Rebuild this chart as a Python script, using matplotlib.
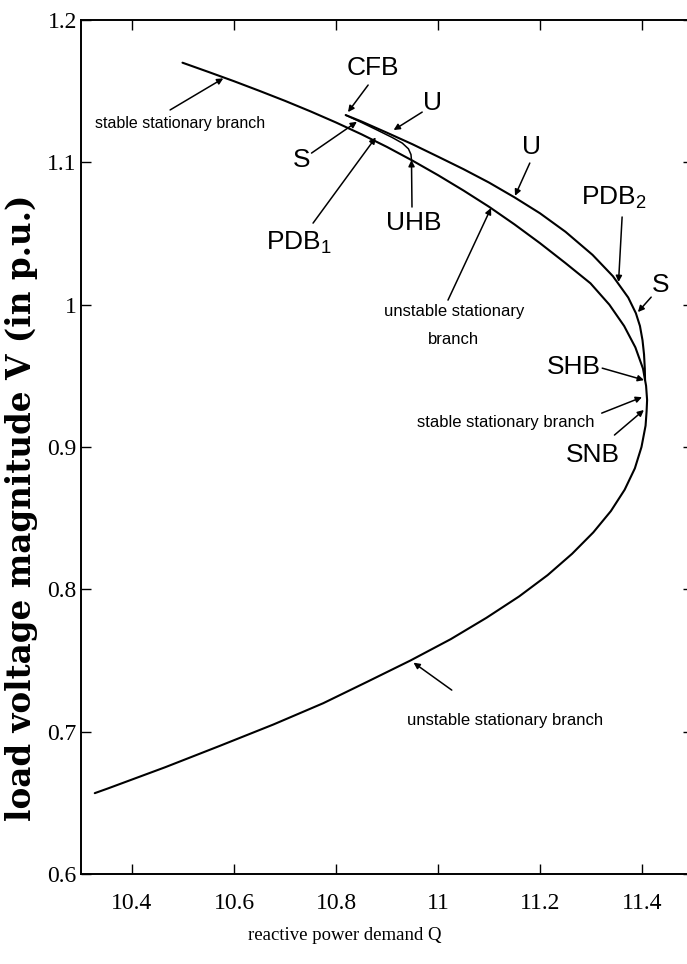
import matplotlib
matplotlib.use("Agg")
import matplotlib.pyplot as plt

plt.rcParams['mathtext.fontset'] = 'custom'
plt.rcParams['mathtext.rm'] = 'Liberation Sans'
plt.rcParams['mathtext.it'] = 'Liberation Sans'

# ---------------- data ----------------
# stationary (equilibrium) branch: reactive power Q, voltage V
stat_Q = [10.499, 10.55, 10.60, 10.65, 10.70, 10.75, 10.80, 10.85, 10.90, 10.95,
          11.00, 11.05, 11.10, 11.15, 11.20, 11.25, 11.299, 11.336, 11.365, 11.387,
          11.402, 11.408, 11.410, 11.409, 11.407, 11.399, 11.386, 11.366, 11.339,
          11.3045, 11.263, 11.215, 11.159, 11.095, 11.025, 10.946, 10.861, 10.775,
          10.677, 10.572, 10.465, 10.352, 10.327]
stat_V = [1.170, 1.1635, 1.1570, 1.1502, 1.1432, 1.1358, 1.1280, 1.1197, 1.1108, 1.1012,
          1.0910, 1.0802, 1.0688, 1.0564, 1.0432, 1.0292, 1.015, 1.000, 0.985, 0.970,
          0.955, 0.943, 0.933, 0.925, 0.915, 0.900, 0.885, 0.870, 0.855,
          0.840, 0.825, 0.810, 0.795, 0.780, 0.765, 0.750, 0.735, 0.720,
          0.705, 0.690, 0.675, 0.660, 0.6568]

# periodic branch (max voltage), from CFB to SHB
per_Q = [10.819, 10.85, 10.90, 10.95, 11.00, 11.05, 11.10, 11.15, 11.20, 11.25,
         11.303, 11.343, 11.373, 11.388, 11.396, 11.401, 11.404, 11.4055, 11.406]
per_V = [1.1332, 1.1287, 1.1208, 1.1127, 1.1040, 1.0952, 1.0858, 1.0754, 1.0642, 1.0512,
         1.035, 1.020, 1.005, 0.994, 0.985, 0.975, 0.965, 0.955, 0.947]

# unstable periodic branch, from CFB down to UHB
uper_Q = [10.819, 10.85, 10.88, 10.91, 10.93, 10.942, 10.947, 10.948]
uper_V = [1.1332, 1.1280, 1.1228, 1.1175, 1.1135, 1.1095, 1.1055, 1.1016]

xticks = [10.4, 10.6, 10.8, 11.0, 11.2, 11.4]
xticklabels = ['10.4', '10.6', '10.8', '11', '11.2', '11.4']
yticks = [0.6, 0.7, 0.8, 0.9, 1.0, 1.1, 1.2]
yticklabels = ['0.6', '0.7', '0.8', '0.9', '1', '1.1', '1.2']

# big labels: text, (Q, V) of text, arrow tail, arrow tip
big_labels = ['CFB', 'U', 'S', 'PDB$_1$', 'UHB', 'U', 'PDB$_2$', 'S', 'SHB', 'SNB']
big_pos = [(10.872, 1.1663), (10.990, 1.1417), (10.732, 1.1016), (10.728, 1.0433),
           (10.953, 1.0573), (11.184, 1.1108), (11.345, 1.0749), (11.436, 1.0138),
           (11.267, 0.9561), (11.303, 0.8943)]
big_tail = [(10.863, 1.1543), (10.969, 1.1353), (10.752, 1.1065), (10.755, 1.0573),
            (10.949, 1.0686), (11.180, 1.0995), (11.361, 1.0616), (11.418, 1.0053),
            (11.322, 0.9554), (11.346, 0.9084)]
big_tip = [(10.8235, 1.1353), (10.913, 1.1227), (10.841, 1.1285), (10.878, 1.1175),
           (10.948, 1.1016), (11.151, 1.0765), (11.354, 1.0159), (11.392, 0.9948),
           (11.404, 0.947), (11.4037, 0.926)]

# small branch labels
small_labels = ['stable stationary branch', 'unstable stationary\n\nbranch',
                'stable stationary branch', 'unstable stationary branch']
small_pos = [(10.494, 1.1276), (11.031, 0.9853), (11.133, 0.9175), (11.131, 0.7081)]
small_tail = [(10.4747, 1.1368), (11.0196, 1.0032), (11.321, 0.9238), (11.027, 0.7292)]
small_tip = [(10.579, 1.159), (11.104, 1.0679), (11.400, 0.935), (10.952, 0.7485)]

# ---------------- figure ----------------
W, H = 687, 964
fig = plt.figure(figsize=(W / 100, H / 100), dpi=100)
ax = fig.add_axes([81 / W, 1 - 874 / H, 612 / W, 854 / H])
ax.set_xlim(10.3, 11.5)
ax.set_ylim(0.6, 1.2)

ax.plot(stat_Q, stat_V, color='black', lw=1.5, solid_capstyle='round', solid_joinstyle='round')
ax.plot(per_Q, per_V, color='black', lw=1.5, solid_capstyle='round', solid_joinstyle='round')
ax.plot(uper_Q, uper_V, color='black', lw=1.1, solid_capstyle='round', solid_joinstyle='round')

arrow = dict(arrowstyle='-|>', color='black', lw=1.1, mutation_scale=9,
             shrinkA=0, shrinkB=0)
for t, p, a, b in zip(big_labels, big_pos, big_tail, big_tip):
    ax.annotate('', xy=b, xytext=a, arrowprops=arrow)
    ax.text(p[0], p[1], t, ha='center', va='center', fontsize=19,
            family='Liberation Sans', color='black')

for i, (t, p, a, b) in enumerate(zip(small_labels, small_pos, small_tail, small_tip)):
    ax.annotate('', xy=b, xytext=a, arrowprops=arrow)
    ax.text(p[0], p[1], t, ha='center', va='center', fontsize=11.5 if i == 0 else 12,
            family='Liberation Sans', color='black', linespacing=0.9)

ax.set_xticks(xticks)
ax.set_xticklabels(xticklabels, family='Liberation Serif', fontsize=17)
ax.set_yticks(yticks)
ax.set_yticklabels(yticklabels, family='Liberation Serif', fontsize=17)
ax.tick_params(direction='in', top=True, right=True, length=7, width=1.0, pad=3)
ax.tick_params(axis='x', pad=14)
for s in ax.spines.values():
    s.set_linewidth(1.4)

fig.text(345 / W, 1 - 935 / H, 'reactive power demand Q', ha='center', va='center',
         family='Liberation Serif', fontsize=13.5)
fig.text(22 / W, 1 - 508 / H, 'load voltage magnitude V (in p.u.)', ha='center',
         va='center', rotation=90, family='DejaVu Serif', fontweight='bold', fontsize=23.5)

fig.savefig('out.png', dpi=100)
